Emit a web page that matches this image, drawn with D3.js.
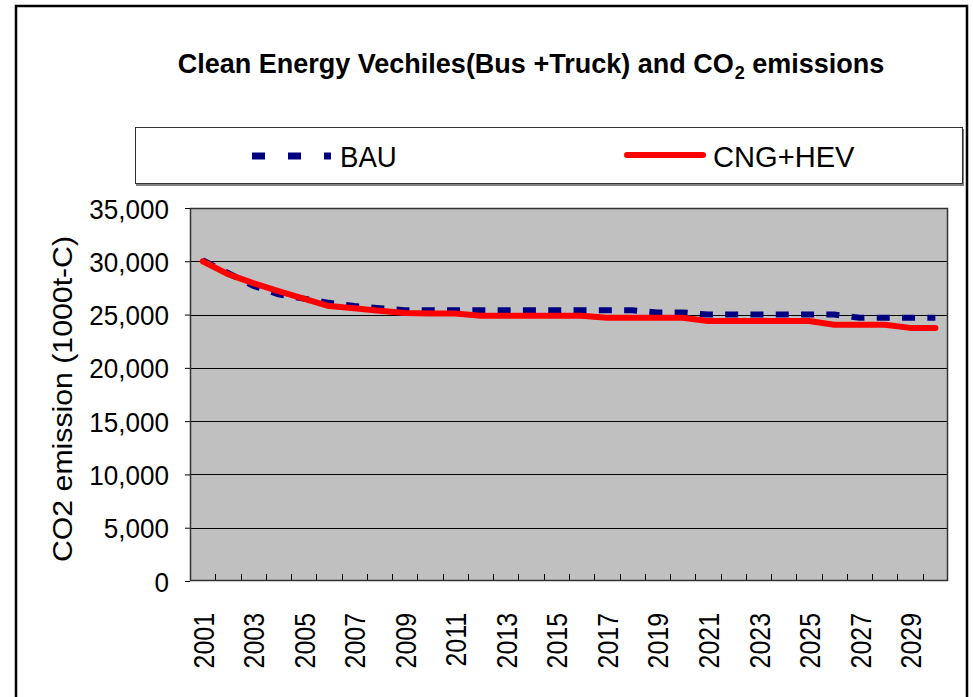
<!DOCTYPE html>
<html>
<head>
<meta charset="utf-8">
<script src="https://cdn.jsdelivr.net/npm/d3@7/dist/d3.min.js"></script>
<style>
  body { margin: 0; background: #fff; }
  text { font-family: "Liberation Sans", Arial, sans-serif; fill: #000; }
</style>
</head>
<body>
<div id="chart"></div>
<script>
// categories (years)
var years = [2001, 2002, 2003, 2004, 2005, 2006, 2007, 2008, 2009, 2010,
             2011, 2012, 2013, 2014, 2015, 2016, 2017, 2018, 2019, 2020,
             2021, 2022, 2023, 2024, 2025, 2026, 2027, 2028, 2029, 2030];
// BAU series (1000t-C)
var bau = [30100, 28900, 27700, 26900, 26500, 26100, 25800, 25600, 25400, 25400,
           25400, 25400, 25400, 25400, 25400, 25400, 25400, 25400, 25200, 25200,
           25000, 25000, 25000, 25000, 25000, 25000, 24700, 24700, 24700, 24700];
// CNG+HEV series (1000t-C)
var cngHev = [30000, 28800, 27950, 27200, 26500, 25800, 25600, 25350, 25150, 25100,
              25100, 24900, 24900, 24900, 24900, 24900, 24700, 24700, 24700, 24700,
              24400, 24400, 24400, 24400, 24400, 24050, 24050, 24050, 23750, 23750];
var yTicks = [0, 5000, 10000, 15000, 20000, 25000, 30000, 35000];
var xLabelYears = [2001, 2003, 2005, 2007, 2009, 2011, 2013, 2015, 2017, 2019,
                   2021, 2023, 2025, 2027, 2029];

var width = 973, height = 697;
var plot = { left: 190, right: 948, top: 208, bottom: 581 };

var svg = d3.select("#chart").append("svg")
    .attr("width", width)
    .attr("height", height);

// squeeze text along its own direction, the original is a bit condensed
function condense(sel, k) {
    sel.each(function() {
        var len = this.getComputedTextLength();
        d3.select(this).attr("textLength", len * k).attr("lengthAdjust", "spacingAndGlyphs");
    });
}

// outer chart border
svg.append("rect")
    .attr("x", 16).attr("y", 6)
    .attr("width", 951).attr("height", 720)
    .style("fill", "none")
    .style("stroke", "#000")
    .style("stroke-width", 2.5);

// title (CO2 with subscript)
var title = svg.append("text")
    .attr("x", 531).attr("y", 73)
    .attr("text-anchor", "middle")
    .style("font-size", "27px")
    .style("font-weight", "bold");
title.append("tspan").text("Clean Energy Vechiles(Bus +Truck) and CO");
title.append("tspan").attr("dy", 6).attr("dx", 1).style("font-size", "18px").text("2");
title.append("tspan").attr("dy", -6).text(" emissions");

// legend
svg.append("rect")
    .attr("x", 136).attr("y", 129)
    .attr("width", 828).attr("height", 57)
    .style("fill", "#808080");
svg.append("rect")
    .attr("x", 135.5).attr("y", 127.5)
    .attr("width", 827).attr("height", 56)
    .style("fill", "#fff")
    .style("stroke", "#333")
    .style("stroke-width", 1);

svg.append("line")
    .attr("x1", 252).attr("x2", 331)
    .attr("y1", 156).attr("y2", 156)
    .style("stroke", "#000080")
    .style("stroke-width", 7)
    .style("stroke-dasharray", "13,23");
svg.append("text")
    .attr("x", 340).attr("y", 167)
    .style("font-size", "30px")
    .text("BAU")
    .call(condense, 0.92);

svg.append("line")
    .attr("x1", 627).attr("x2", 703)
    .attr("y1", 155).attr("y2", 155)
    .style("stroke", "#ff0000")
    .style("stroke-width", 6)
    .style("stroke-linecap", "round");
svg.append("text")
    .attr("x", 713).attr("y", 167)
    .style("font-size", "30px")
    .text("CNG+HEV")
    .call(condense, 0.97);

// scales
var x = d3.scaleBand().domain(years).range([plot.left, plot.right]);
var y = d3.scaleLinear().domain([0, 35000]).range([plot.bottom, plot.top]);
var cx = function(d) { return x(d) + x.bandwidth() / 2; };

// plot area
svg.append("rect")
    .attr("x", plot.left).attr("y", plot.top)
    .attr("width", plot.right - plot.left)
    .attr("height", plot.bottom - plot.top)
    .style("fill", "#c0c0c0");

// gridlines
svg.selectAll(".grid")
    .data(yTicks.slice(1, -1))
    .enter()
    .append("line")
    .attr("class", "grid")
    .attr("x1", plot.left).attr("x2", plot.right)
    .attr("y1", function(d) { return Math.round(y(d)) + 0.5; })
    .attr("y2", function(d) { return Math.round(y(d)) + 0.5; })
    .style("stroke", "#000")
    .style("stroke-width", 1);

// y axis
var yAxis = svg.append("g")
    .attr("transform", "translate(" + plot.left + ",0)")
    .call(d3.axisLeft(y).tickValues(yTicks).tickSize(5).tickPadding(16)
        .tickFormat(d3.format(",")));
yAxis.select(".domain").remove();
yAxis.selectAll("line").style("stroke", "#000");
yAxis.selectAll("text")
    .style("font-size", "28px")
    .style("font-family", "'Liberation Sans', Arial, sans-serif")
    .attr("dy", "0.36em")
    .call(condense, 0.93);

// x tick marks at category boundaries (inside plot)
var boundaries = years.map(function(d) { return x(d); }).concat([plot.right]);
svg.selectAll(".xtick")
    .data(boundaries.slice(1, -1))
    .enter()
    .append("line")
    .attr("class", "xtick")
    .attr("x1", function(d) { return Math.round(d) + 0.5; })
    .attr("x2", function(d) { return Math.round(d) + 0.5; })
    .attr("y1", plot.bottom).attr("y2", plot.bottom - 7)
    .style("stroke", "#000");

// x labels, rotated
svg.selectAll(".xlbl")
    .data(xLabelYears)
    .enter()
    .append("text")
    .attr("class", "xlbl")
    .attr("transform", function(d) { return "translate(" + (cx(d) + 11) + ",613) rotate(-90)"; })
    .attr("text-anchor", "end")
    .style("font-size", "30px")
    .text(function(d) { return d; })
    .call(condense, 0.83);

// y axis title
svg.append("text")
    .attr("transform", "translate(72,399) rotate(-90)")
    .attr("text-anchor", "middle")
    .style("font-size", "28px")
    .text("CO2 emission (1000t-C)")
    .call(condense, 1.08);

// series lines
var line = d3.line()
    .x(function(d, i) { return cx(years[i]); })
    .y(function(d) { return y(d); });

svg.append("path")
    .datum(bau)
    .attr("d", line)
    .style("fill", "none")
    .style("stroke", "#000080")
    .style("stroke-width", 6)
    .style("stroke-dasharray", "13,12.3");

svg.append("path")
    .datum(cngHev)
    .attr("d", line)
    .style("fill", "none")
    .style("stroke", "#ff0000")
    .style("stroke-width", 6)
    .style("stroke-linejoin", "round")
    .style("stroke-linecap", "round");

// plot border
svg.append("rect")
    .attr("x", plot.left + 0.5).attr("y", plot.top + 0.5)
    .attr("width", plot.right - plot.left - 1)
    .attr("height", plot.bottom - plot.top - 1)
    .style("fill", "none")
    .style("stroke", "#333")
    .style("stroke-width", 1.5);
</script>
</body>
</html>
